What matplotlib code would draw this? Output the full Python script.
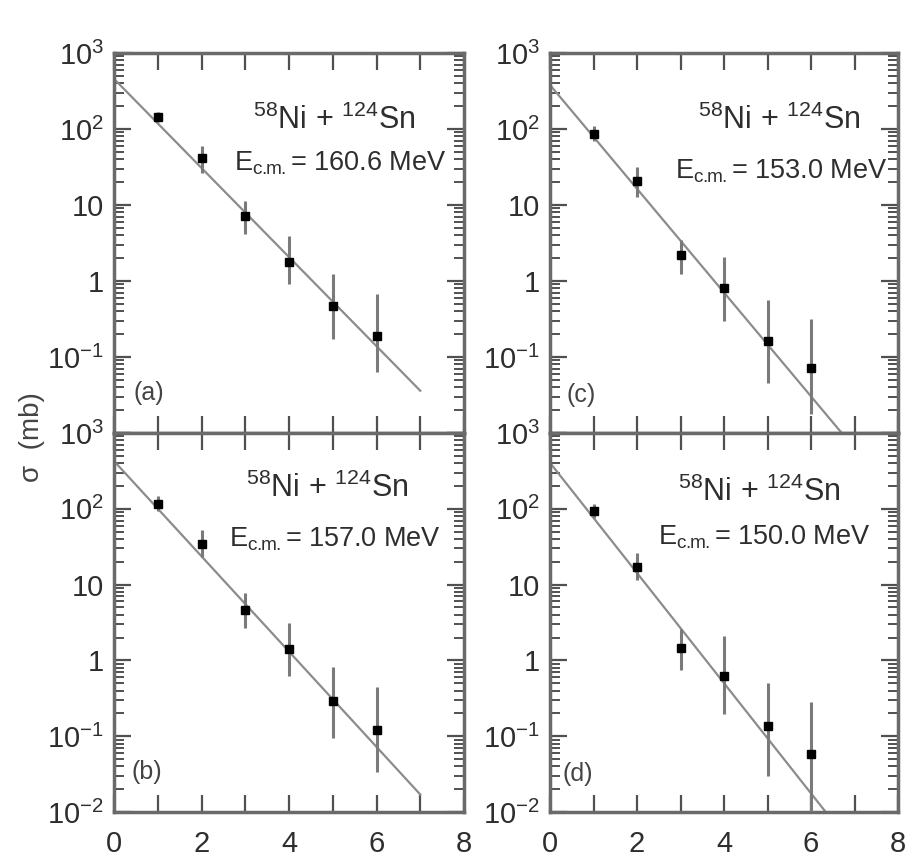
import matplotlib
matplotlib.use("Agg")
import matplotlib.pyplot as plt
from matplotlib import font_manager
from matplotlib.ticker import FixedLocator, FixedFormatter, LogLocator, NullFormatter, MultipleLocator, FuncFormatter

# pick a condensed sans face if there is one
names = {f.name for f in font_manager.fontManager.ttflist}
face = "Liberation Sans Narrow" if "Liberation Sans Narrow" in names else "Liberation Sans"
plt.rcParams["font.family"] = [face, "DejaVu Sans"]
plt.rcParams["mathtext.fontset"] = "custom"
plt.rcParams["mathtext.rm"] = face
plt.rcParams["mathtext.it"] = face
plt.rcParams["mathtext.default"] = "regular"

# number of transferred neutrons
n_x = [1, 2, 3, 4, 5, 6]

# (a) E_cm = 160.6 MeV
sig_a = [145, 41, 7.1, 1.8, 0.47, 0.19]
lo_a = [125, 26, 4.1, 0.92, 0.175, 0.063]
hi_a = [168, 59, 11.2, 3.9, 1.24, 0.67]
fit_a = [457, 0.036]

# (b) E_cm = 157.0 MeV
sig_b = [117, 34.5, 4.6, 1.42, 0.29, 0.12]
lo_b = [93, 22.8, 2.7, 0.62, 0.094, 0.034]
hi_b = [147, 52, 7.8, 3.1, 0.82, 0.45]
fit_b = [427, 0.017]

# (c) E_cm = 153.0 MeV
sig_c = [87, 20.4, 2.2, 0.8, 0.16, 0.072]
lo_c = [69, 12.9, 1.24, 0.30, 0.045, 0.0177]
hi_c = [110, 32, 3.5, 2.1, 0.57, 0.32]
fit_c = [380, 0.0063]

# (d) E_cm = 150.0 MeV
sig_d = [93, 17, 1.47, 0.63, 0.138, 0.059]
lo_d = [76, 11.5, 0.75, 0.195, 0.030, 0.0074]
hi_d = [114, 26.3, 2.6, 2.1, 0.51, 0.28]
fit_d = [405, 0.0033]

fit_x = [0, 7]
energies = ["160.6", "157.0", "153.0", "150.0"]
tags = ["(a)", "(b)", "(c)", "(d)"]

decades = [1e-2, 1e-1, 1, 10, 1e2, 1e3]
dec_labels = [r"$10^{-2}$", r"$10^{-1}$", "1", "10", r"$10^{2}$", r"$10^{3}$"]

fig = plt.figure(figsize=(9.07, 8.66), dpi=100)

W = 907.0
boxes = [
    [114 / W, 0.5, 350 / W, 0.4388],      # a
    [114 / W, 0.0624, 350 / W, 0.4376],   # b
    [550 / W, 0.5, 348 / W, 0.4388],      # c
    [550 / W, 0.0624, 348 / W, 0.4376],   # d
]
panels = [
    (sig_a, lo_a, hi_a, fit_a, (0.63, 0.80), (0.645, 0.69)),
    (sig_b, lo_b, hi_b, fit_b, (0.61, 0.83), (0.63, 0.70)),
    (sig_c, lo_c, hi_c, fit_c, (0.66, 0.80), (0.665, 0.67)),
    (sig_d, lo_d, hi_d, fit_d, (0.60, 0.82), (0.615, 0.705)),
]
tag_pos = [(0.10, 0.105), (0.095, 0.106), (0.09, 0.10), (0.08, 0.10)]
spine_col = "#6a6a6a"
ink = "#2e2e2e"

for i, (sig, lo, hi, fit, p1, p2) in enumerate(panels):
    ax = fig.add_axes(boxes[i])
    ax.set_yscale("log")
    ax.set_xlim(0, 8)
    ax.set_ylim(1e-2, 1e3)

    ax.plot(fit_x, fit, color="#8c8c8c", lw=1.6, zorder=2)
    yerr = [[s - l for s, l in zip(sig, lo)], [h - s for s, h in zip(sig, hi)]]
    ax.errorbar(n_x, sig, yerr=yerr, fmt="s", color="black", ms=6,
                ecolor="#7a7a7a", elinewidth=2.2, capsize=0, zorder=3)

    ax.text(p1[0], p1[1], r"$^{58}$Ni + $^{124}$Sn", transform=ax.transAxes,
            ha="center", va="baseline", fontsize=22, color=ink)
    ax.text(p2[0], p2[1], r"E$_{c.\!\!m.}$= " + energies[i] + " MeV", transform=ax.transAxes,
            ha="center", va="baseline", fontsize=19.5, color=ink)
    ax.text(tag_pos[i][0], tag_pos[i][1], tags[i], transform=ax.transAxes,
            ha="center", va="center", fontsize=18, color="#444444")

    bottom_row = i in (1, 3)
    ax.yaxis.set_major_locator(FixedLocator(decades))
    labels = list(dec_labels)
    if not bottom_row:
        labels[0] = ""
    ax.yaxis.set_major_formatter(FixedFormatter(labels))
    ax.yaxis.set_minor_locator(LogLocator(base=10, subs=range(2, 10), numticks=20))
    ax.yaxis.set_minor_formatter(NullFormatter())

    ax.xaxis.set_major_locator(MultipleLocator(1))
    if bottom_row:
        ax.xaxis.set_major_formatter(FuncFormatter(lambda v, p: "%d" % v if int(v) % 2 == 0 else ""))
    else:
        ax.xaxis.set_major_formatter(NullFormatter())

    ax.tick_params(which="both", direction="in", top=True, right=True,
                   color="#505050", labelcolor=ink)
    ax.tick_params(which="major", length=12, width=1.6, labelsize=21, pad=7)
    ax.tick_params(which="minor", length=7, width=1.4)
    ax.tick_params(axis="x", which="major", pad=13)
    for sp in ax.spines.values():
        sp.set_color(spine_col)
        sp.set_linewidth(2.5)

fig.text(0.035, 0.495, "σ  (mb)", rotation=90, ha="center", va="center",
         fontsize=20, color="#444444")

fig.savefig("out.png", dpi=100)
